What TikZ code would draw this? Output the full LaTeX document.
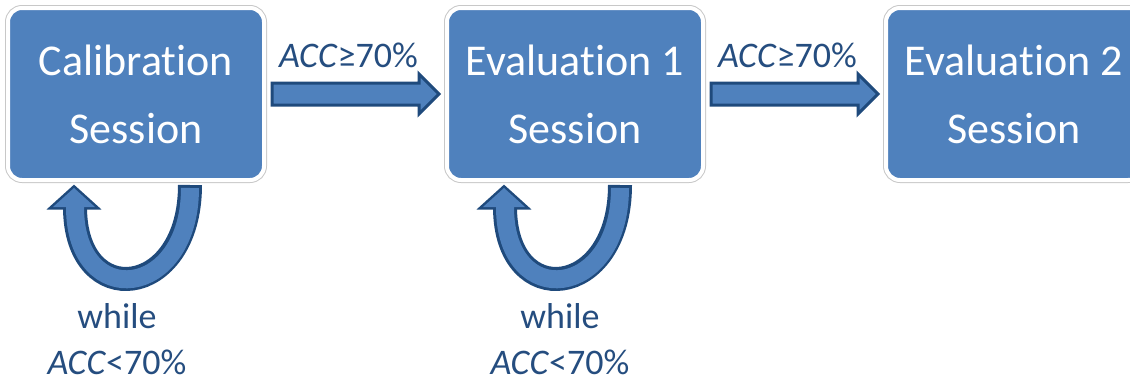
\documentclass[tikz,border=0pt]{standalone}
\usepackage{fontspec}
\setmainfont{Carlito}[Ligatures=NoCommon]
\usetikzlibrary{calc, positioning}

\definecolor{sessionblue}{HTML}{4F81BD}
\definecolor{edgeblue}{HTML}{1F4A7C}
\definecolor{labelblue}{HTML}{254D7F}
\definecolor{rimgray}{HTML}{C8C8C8}

\begin{document}
\begin{tikzpicture}[x=1pt,y=-1pt,
  session/.style={rectangle, rounded corners=14pt, fill=sessionblue, draw=white, line width=4pt,
    preaction={draw=rimgray, line width=6pt}, minimum width=256pt, minimum height=172pt,
    inner sep=0pt, align=center, text=white, font=\fontsize{44pt}{68pt}\selectfont},
  cond/.style={text=labelblue, align=center, inner sep=0pt, font=\fontsize{36pt}{46pt}\selectfont},
  blockarrow/.style={fill=sessionblue, draw=edgeblue, line width=3pt, line join=miter}]
\useasboundingbox (0,0) rectangle (1130,380);

\node[session] (calib) at (136,94) {Calibration\\Session};
\node[session, right=179pt of calib] (eval1) {Evaluation 1\\Session};
\node[session, right=179pt of eval1] (eval2) {Evaluation 2\\Session};

% forward arrows between sessions
\foreach \from/\to in {calib/eval1, eval1/eval2} {
  \draw[blockarrow] ($(\from.east)+(6pt,11pt)$) -- ($(\to.west)+(-26pt,11pt)$)
      node[pos=0.5, cond, xshift=3pt, yshift=28pt] {\textit{ACC}≥70\%}
    -- ($(\to.west)+(-26pt,20pt)$) -- ($(\to.west)+(-6pt,0pt)$)
    -- ($(\to.west)+(-26pt,-20pt)$) -- ($(\to.west)+(-26pt,-11pt)$)
    -- ($(\from.east)+(6pt,-11pt)$) -- cycle;
}

% repeat loops under the first two sessions
\foreach \sess/\dx/\lx in {calib/54/-19, eval1/45/-15} {
  \begin{scope}[shift={($(\sess.south)+(\dx pt,-3pt)$)}]
    \draw[edgeblue, line width=24pt] (0,0) .. controls (0,115) and (-115,127) .. (-115,22);
    \filldraw[edgeblue, line width=5pt, line join=miter] (-116,3) -- (-137,22) -- (-95,22) -- cycle;
    \draw[sessionblue, line width=18pt, shorten <=3pt] (0,0) .. controls (0,115) and (-115,127) .. (-115,22);
    \fill[sessionblue] (-116,3) -- (-137,22) -- (-95,22) -- cycle;
  \end{scope}
  \node[cond] at ($(\sess.south)+(\lx pt,-157pt)$) {while\\\textit{ACC}<70\%};
}
\end{tikzpicture}
\end{document}
